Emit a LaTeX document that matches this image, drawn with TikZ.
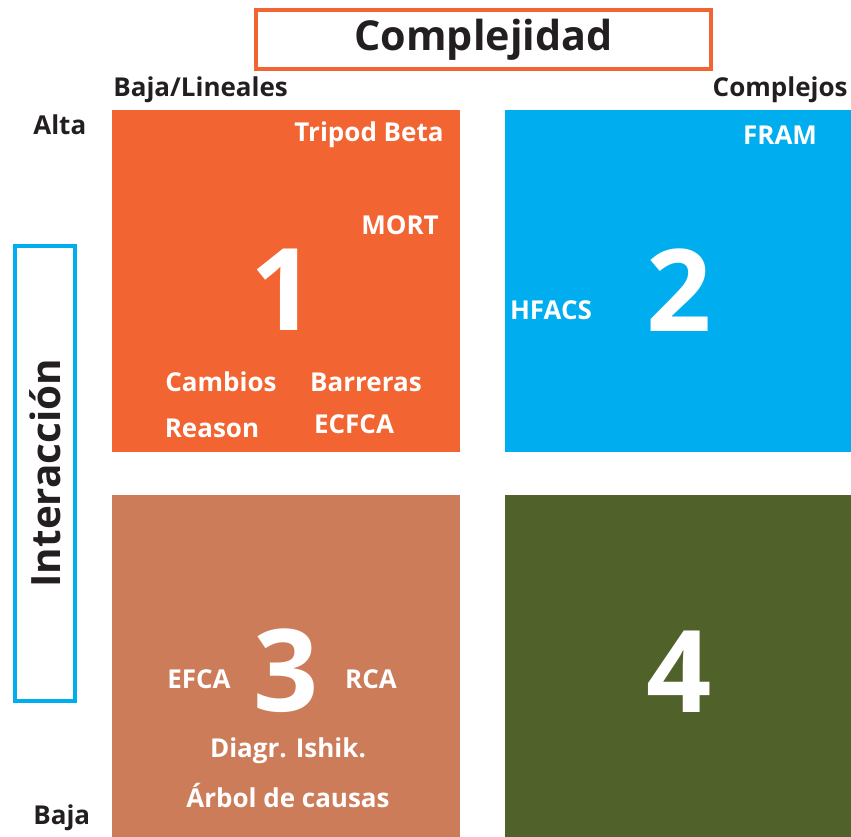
\documentclass[tikz,border=0pt]{standalone}
\usepackage{fontspec}
\setmainfont{Open Sans}
\usetikzlibrary{positioning}
\definecolor{QOrange}{HTML}{F26532}
\definecolor{QBlue}{HTML}{00AEEF}
\definecolor{QBrown}{HTML}{CD7C59}
\definecolor{QGreen}{HTML}{50622A}
\definecolor{DarkText}{HTML}{231F20}

\begin{document}
\begin{tikzpicture}[x=0.02cm,y=-0.02cm,
    every node/.style={font=\bfseries,inner sep=0pt},
    axislbl/.style={font=\fontsize{14.8}{17}\selectfont\bfseries,text=DarkText},
    methodlbl/.style={font=\fontsize{14.8}{17}\selectfont\bfseries,text=white},
    bignum/.style={font=\fontsize{65}{65}\selectfont\bfseries,text=white,text depth=0pt}]
        \useasboundingbox (0,0) rectangle (851,837);
        % quadrants
        \fill[QOrange] (112,110) rectangle (460,452);
        \fill[QBlue] (505,110) rectangle (851,452);
        \fill[QBrown] (112,495) rectangle (460,837);
        \fill[QGreen] (505,495) rectangle (851,837);
        % axis titles
        \draw[QOrange,line width=2.4pt] (256,10) rectangle (711,69);
        \node[font=\fontsize{23.5}{28}\selectfont\bfseries,text=DarkText] (complej) at (483.5,40) {Complejidad};
        \draw[QBlue,line width=1.8pt] (15,246) rectangle (75,701);
        \node[font=\fontsize{23}{28}\selectfont\bfseries,text=DarkText,rotate=90] (interac) at (45,473) {Interacción};
        \node[axislbl,anchor=west] (baja1) at (113,90) {Baja/Lineales};
        \node[axislbl,anchor=east] (complejos) at (848,90) {Complejos};
        \node[axislbl,anchor=west] (alta) at (33,125) {Alta};
        \node[axislbl,anchor=west] (baja2) at (33,818) {Baja};
        % quadrant 1
        \node[bignum] (n1) at (283,290) {1};
        \node[methodlbl] (tripod) at (369,135) {Tripod Beta};
        \node[methodlbl] (mort) at (400,225) {MORT};
        \node[methodlbl] (cambios) at (221,382) {Cambios};
        \node[methodlbl] (barreras) at (366,382) {Barreras};
        \node[methodlbl] (reason) at (212,428) {Reason};
        \node[methodlbl] (ecfca) at (354,424) {ECFCA};
        % quadrant 2
        \node[bignum] (n2) at (679,290) {2};
        \node[methodlbl] (fram) at (780,135) {FRAM};
        \node[methodlbl] (hfacs) at (551,310) {HFACS};
        % quadrant 3
        \node[bignum] (n3) at (286,670) {3};
        \node[methodlbl] (efca) at (199,679) {EFCA};
        \node[methodlbl] (rca) at (371,679) {RCA};
        \node[methodlbl] (ishik) at (288,751) {Diagr. Ishik.};
        \node[methodlbl] (arbol) at (288,796) {Árbol de causas};
        % quadrant 4
        \node[bignum] (n4) at (679,672) {4};
\end{tikzpicture}
\end{document}
